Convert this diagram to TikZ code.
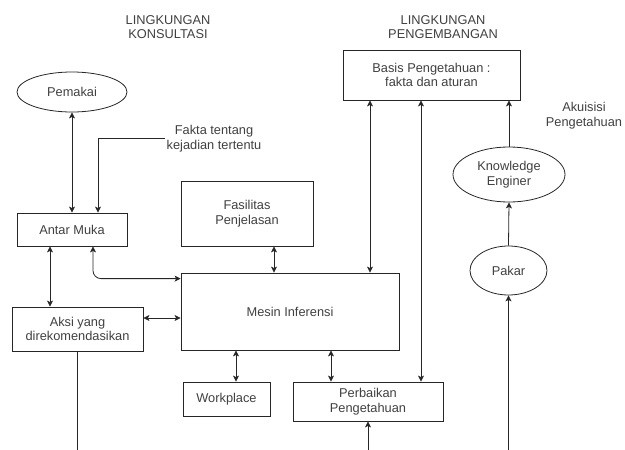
\documentclass[tikz,border=0pt]{standalone}
\usepackage{fontspec}
\setmainfont{Liberation Sans}
\usepackage{tikz}
\usetikzlibrary{arrows.meta,shapes}
\newcommand{\linew}{0.8pt}
\tikzset{
    kotak/.style = {draw=black!85, line width=\linew, rectangle, align=center, inner sep=1pt},
    elips/.style = {draw=black!85, line width=\linew, ellipse, align=center, inner sep=1pt},
    teks/.style = {align=center, inner sep=1pt},
    panah/.style = {line width=\linew, draw=black!85, >={Stealth[length=6pt,width=6pt,inset=1.5pt]}}
}

\begin{document}
\begin{tikzpicture}[x=1pt, y=-1pt, font=\fontsize{12.8}{14.5}\selectfont, text=black!75]
            \useasboundingbox (0,0) rectangle (625,450);
            % judul
            \node[teks] (konsul) at (168,27) {LINGKUNGAN\\KONSULTASI};
            \node[teks] (kembang) at (443,27) {LINGKUNGAN\\PENGEMBANGAN};
            \node[teks] (fakta) at (214,138.5) {Fakta tentang\\kejadian tertentu};
            \node[teks] (akuisisi) at (584,115.5) {Akuisisi\\Pengetahuan};
            % kotak dan elips
            \node[elips, minimum width=110, minimum height=40] (pemakai) at (72,92) {Pemakai};
            \node[kotak, minimum width=110, minimum height=33] (antarmuka) at (72,229.5) {Antar Muka};
            \node[kotak, minimum width=132, minimum height=65] (fasilitas) at (247,213.5) {Fasilitas\\Penjelasan};
            \node[kotak, minimum width=131, minimum height=44] (aksi) at (77.5,329) {Aksi yang\\direkomendasikan};
            \node[kotak, minimum width=218, minimum height=77] (mesin) at (290,311.5) {Mesin Inferensi};
            \node[kotak, minimum width=87, minimum height=34] (workplace) at (226.5,399) {Workplace};
            \node[kotak, minimum width=150, minimum height=39] (perbaikan) at (368,401.5) {Perbaikan\\Pengetahuan};
            \node[kotak, minimum width=177, minimum height=50] (basis) at (431.5,75) {Basis Pengetahuan :\\fakta dan aturan};
            \node[elips, minimum width=112, minimum height=55] (knowledge) at (509,174.5) {Knowledge\\Enginer};
            \node[elips, minimum width=77, minimum height=49] (pakar) at (508.5,270.5) {Pakar};
            % ujung bebas
            \coordinate (aksiout) at (77.5,450);
            \coordinate (perbaikanin) at (368,450);
            \coordinate (pakarin) at (508.5,450);
            
            \draw[panah, <->] (pemakai.south) -- (antarmuka.north);
            \draw[panah, ->] (fakta.west) -| ([xshift=26pt]antarmuka.north);
            \draw[panah, <->] ([xshift=-22pt]antarmuka.south) -- ([xshift=-22pt]antarmuka.south |- aksi.north);
            \draw[panah, <->, rounded corners=8pt] ([xshift=21pt]antarmuka.south) |- ([yshift=-6pt]mesin.north west);
            \draw[panah, <->] ([yshift=11pt]aksi.east) -- ([yshift=11pt]aksi.east -| mesin.west);
            \draw[panah, <->] ([xshift=27pt]fasilitas.south) -- ([xshift=27pt]fasilitas.south |- mesin.north);
            \draw[panah, <->] ([xshift=9.5pt]workplace.north) -- ([xshift=9.5pt]workplace.north |- mesin.south);
            \draw[panah, <->] ([xshift=-37pt]perbaikan.north) -- ([xshift=-37pt]perbaikan.north |- mesin.south);
            \draw[panah, <->] ([xshift=-61.5pt]basis.south) -- ([xshift=-61.5pt]basis.south |- mesin.north);
            \draw[panah, <->] ([xshift=-10.5pt]basis.south) -- ([xshift=-10.5pt]basis.south |- perbaikan.north);
            \draw[panah, ->] (knowledge.north) -- (knowledge.north |- basis.south);
            \draw[panah, ->] (pakar.north) -- (knowledge.south);
            \draw[panah, ->] (pakarin) -- (pakar.south);
            \draw[panah, ->] (perbaikanin) -- (perbaikan.south);
            \draw[panah] (aksi.south) -- (aksiout);
\end{tikzpicture}
\end{document}
